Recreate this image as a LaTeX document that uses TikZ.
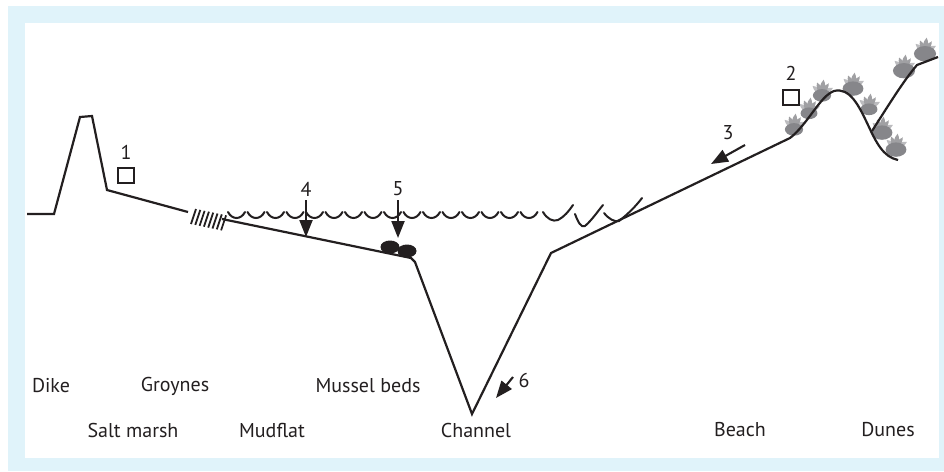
\documentclass[tikz,border=0pt]{standalone}
\usepackage{fontspec}
\setmainfont{PT Sans}
\usetikzlibrary{arrows.meta}
\definecolor{framebg}{HTML}{E0F3FA}
\definecolor{ink}{HTML}{231F20}
\definecolor{leafdark}{HTML}{86868A}
\definecolor{leafmid}{HTML}{A0A0A3}
\definecolor{leaflight}{HTML}{BCBCBF}
\tikzset{
  profile/.style={draw=ink, line width=2.2pt, line join=miter},
  wave/.style={draw=ink, line width=2pt, line cap=round},
  flowarrow/.style={draw=ink, line width=2.1pt, -{Triangle[width=13pt,length=17pt]}},
  lbl/.style={text=ink, font=\fontsize{20}{24}\selectfont, inner sep=0pt},
  num/.style={text=ink, font=\fontsize{20}{24}\selectfont, inner sep=0pt},
  marker/.style={draw=ink, line width=1.7pt},
  mussel/.style={fill=ink},
  petal/.pic={
    \fill[pic actions] (0,0) .. controls (-3.6,-4) and (-2.4,-9) .. (0.6,-12.5)
                             .. controls (2.6,-9) and (3.4,-4) .. (0,0);
  },
  tuft/.pic={
    \fill[leaflight] (0,0) pic[rotate=-58]{petal} pic[rotate=52]{petal};
    \fill[leafmid] (0,0) pic[rotate=-30]{petal} pic[rotate=26]{petal};
    \fill[leafmid] (0,0) pic[rotate=-4, scale=1.15]{petal};
    \fill[leafdark] (0,1) ellipse (6.5 and 4.5);
  }
}
\begin{document}
\begin{tikzpicture}[x=1pt, y=-1pt]
  \useasboundingbox (0,0) rectangle (944,471);
  % frame
  \fill[framebg] (8,6) rectangle (944,471);
  \fill[white] (25,23) rectangle (939,458);

  % dune vegetation
  \foreach \px/\py/\s in {794/128/1.4, 809/112/1.3, 822/94/1.4, 853/87/1.6, 869/108/1.3,
                          882/131/1.6, 896/148/1.6, 904/69/1.7, 925/52/1.7}
    \pic[scale=\s] at (\px,\py) {tuft};

  % coastal profile
  \coordinate (land) at (27,214);
  \coordinate (dikefoot) at (54,214);
  \coordinate (diketopl) at (80,117);
  \coordinate (diketopr) at (92,116);
  \coordinate (marsh) at (107,190);
  \coordinate (groyneA) at (188,212);
  \coordinate (groyneB) at (222,219);
  \coordinate (bedsedge) at (411,258);
  \coordinate (channeltop) at (415,262);
  \coordinate (channelbed) at (472,414);
  \coordinate (beachfoot) at (551,253);
  \coordinate (beachtop) at (790,138);
  \draw[profile] (land) -- (dikefoot) -- (diketopl) -- (diketopr) -- (marsh) -- (groyneA);
  \draw[profile] (groyneB) -- (bedsedge) -- (channeltop) -- (channelbed) -- (beachfoot) -- (beachtop)
        .. controls (808,124) and (820,96) .. (834,91)
        .. controls (850,87) and (859,106) .. (868,125)
        .. controls (876,142) and (883,157) .. (898,160);
  % landward dune ridge
  \coordinate (ridgefoot) at (872,131);
  \draw[profile] (ridgefoot) .. controls (888,106) and (904,80) .. (917,65) -- (938,57);

  % groynes
  \foreach \i in {0,...,7}
    \draw[ink, line width=1.8pt] ({191+4.3*\i},{224+0.9*\i}) -- ({196+4.3*\i},{209+0.9*\i});

  % water surface
  \foreach \k in {0,...,15}
    \draw[wave] ({228+19.5*\k},212) .. controls ({232+19.5*\k},220) and ({241+19.5*\k},220) .. ({245+19.5*\k},212);
  % breaking waves
  \draw[wave] (543,212) .. controls (547,219) and (553,222) .. (558,220) .. controls (564,217) and (569,211) .. (573,205);
  \draw[wave] (575,214) .. controls (578,222) and (581,228) .. (585,226) .. controls (592,220) and (598,211) .. (603,205);
  \draw[wave] (604,213) .. controls (609,219) and (614,222) .. (619,221) .. controls (628,214) and (636,206) .. (642,198);

  % mussel beds
  \fill[mussel] (390,247) ellipse (9.5 and 6.5);
  \fill[mussel] (407,251) ellipse (9.5 and 6.5);

  % numbered markers and arrows
  \draw[marker] (118,168) rectangle (134,183);
  \node[num] (n1) at (126,152) {1};
  \draw[marker] (783,90) rectangle (799,105);
  \node[num] (n2) at (791,73) {2};

  \node[num] (n3) at (728,133) {3};
  \coordinate (a3s) at (745,145);
  \coordinate (a3e) at (711,164);
  \draw[flowarrow] (a3s) -- (a3e);

  \node[num] (n4) at (306,189) {4};
  \coordinate (a4s) at (306,200);
  \coordinate (a4e) at (306,237);
  \draw[flowarrow] (a4s) -- (a4e);

  \node[num] (n5) at (398,189) {5};
  \coordinate (a5s) at (398,200);
  \coordinate (a5e) at (398,238);
  \draw[flowarrow] (a5s) -- (a5e);

  \node[num] (n6) at (524,380) {6};
  \coordinate (a6s) at (513,377);
  \coordinate (a6e) at (496,398);
  \draw[flowarrow] (a6s) -- (a6e);

  % zone names
  \node[lbl] (dike) at (51,386) {Dike};
  \node[lbl] (groynes) at (175,386) {Groynes};
  \node[lbl] (mussels) at (368,386) {Mussel beds};
  \node[lbl] (saltmarsh) at (133,430) {Salt marsh};
  \node[lbl] (mudflat) at (272,430) {Mudflat};
  \node[lbl] (channel) at (476,430) {Channel};
  \node[lbl] (beach) at (740,430) {Beach};
  \node[lbl] (dunes) at (888,430) {Dunes};
\end{tikzpicture}
\end{document}
